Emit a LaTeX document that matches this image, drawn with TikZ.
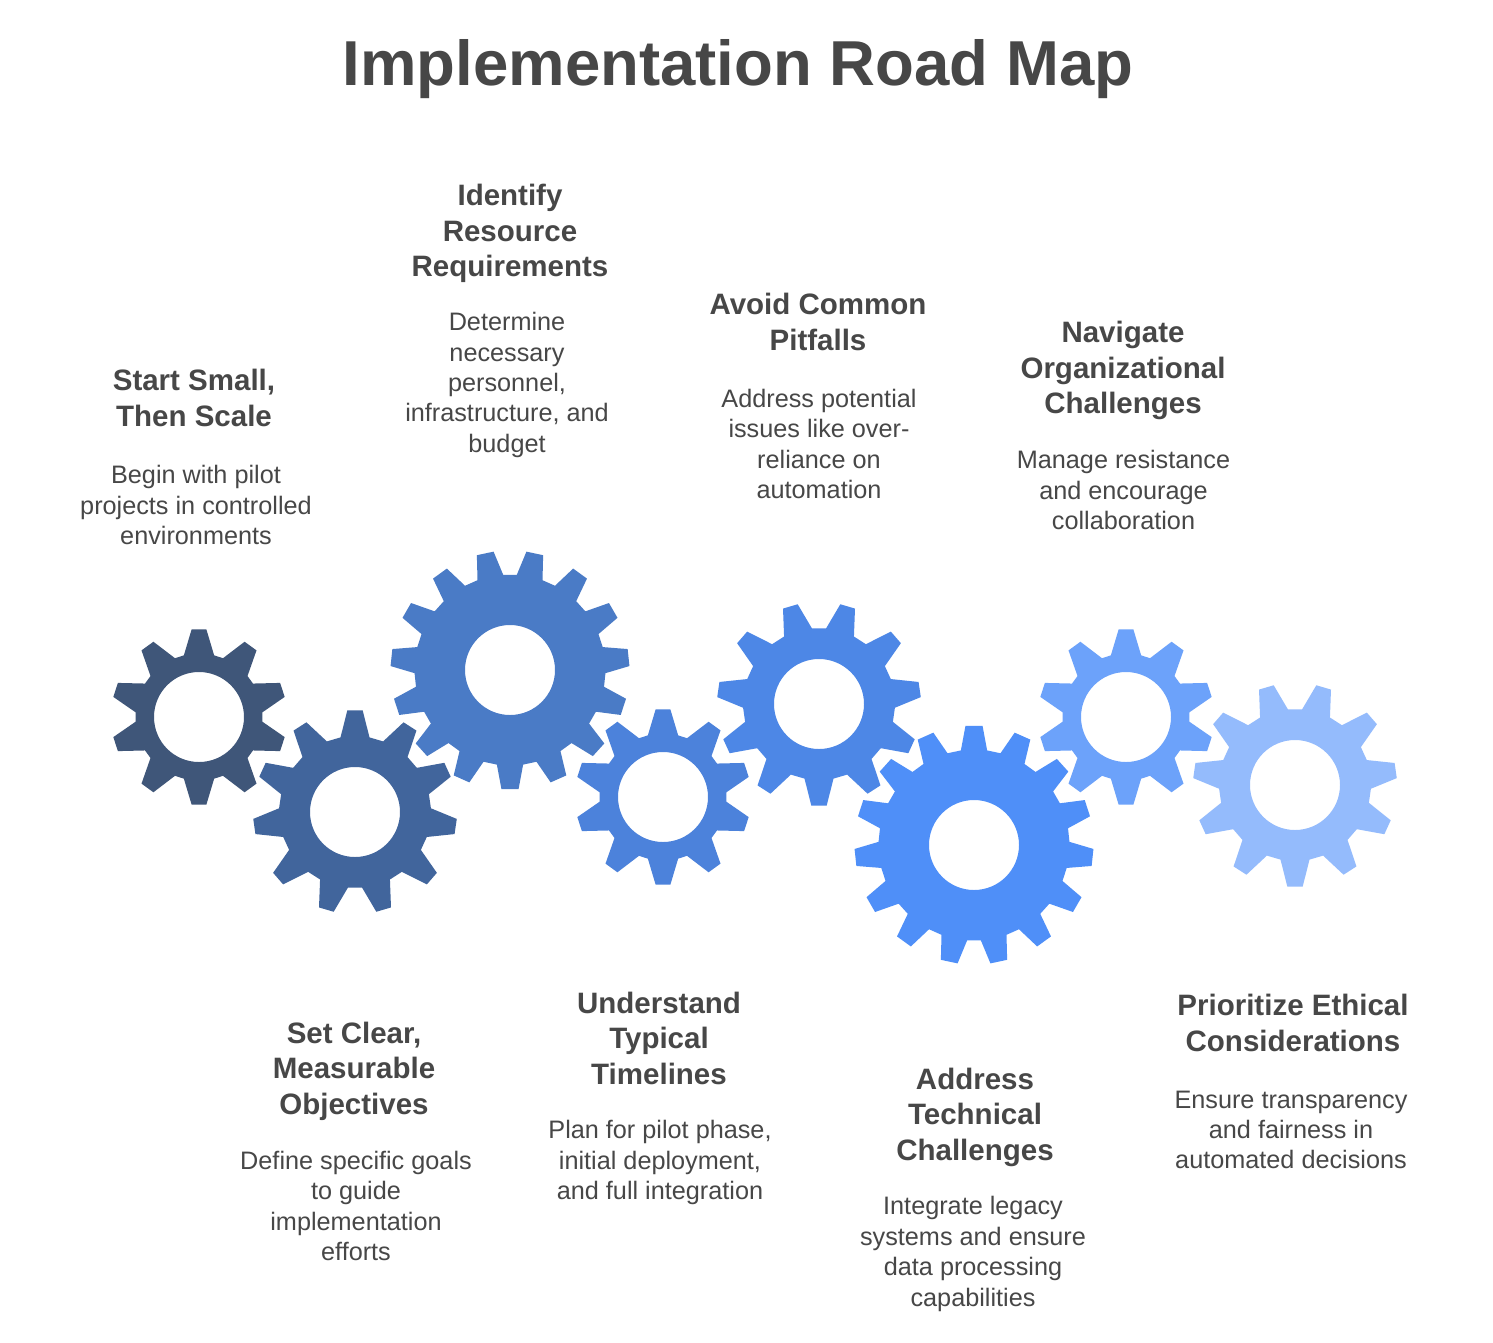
\documentclass[tikz,border=0pt]{standalone}
\usepackage{fontspec}
\setmainfont{Liberation Sans}
\definecolor{txt}{HTML}{474747}
\definecolor{gA}{HTML}{3F5679}
\definecolor{gB}{HTML}{41659C}
\definecolor{gC}{HTML}{4A7BC6}
\definecolor{gD}{HTML}{4C82DB}
\definecolor{gE}{HTML}{4D87E6}
\definecolor{gF}{HTML}{4F8FF8}
\definecolor{gG}{HTML}{6CA2FA}
\definecolor{gH}{HTML}{94BBFC}
\tikzset{
  titletext/.style={font=\fontsize{63.5}{70}\selectfont\bfseries,text=txt,inner sep=0pt},
  headtext/.style={font=\fontsize{29.5}{35.5}\selectfont\bfseries,text=txt,align=center,inner sep=0pt},
  bodytext/.style={font=\fontsize{25.25}{30.4}\selectfont,text=txt,align=center,inner sep=0pt}
}
% centre x, centre y, teeth, start angle, tip R, root R, tip half angle, base half angle, colour
\newcommand{\gearshape}[9]{%
  \pgfmathsetmacro{\gstep}{360/#3}%
  \pgfmathsetmacro{\gsecond}{#4+\gstep}%
  \pgfmathsetmacro{\gend}{#4+360-\gstep/2}%
  \fill[#9,even odd rule,shift={(#1,#2)}]
    (#4-#8:#6)
    \foreach \ga in {#4,\gsecond,...,\gend}{
      -- (\ga-#8:#6) -- (\ga-#7:#5) -- (\ga+#7:#5) -- (\ga+#8:#6)
    } -- cycle
    (0,0) circle[radius=45];
}
\begin{document}
\begin{tikzpicture}[x=1pt,y=-1pt]
\useasboundingbox (0,0) rectangle (1493,1342);
\fill[white] (0,0) rectangle (1493,1342);
\gearshape{199}{717}{10}{-90}{88}{63.5}{4.8}{13.8}{gA}
\gearshape{355}{812}{11}{-90}{102}{76}{4.3}{11}{gB}
\gearshape{510}{670}{15}{90}{119.5}{95.5}{4.1}{7.9}{gC}
\gearshape{663}{797}{10}{-90}{88}{63.5}{4.8}{13.8}{gD}
\gearshape{819}{704}{11}{90}{102}{76}{4.3}{11}{gE}
\gearshape{974}{845}{15}{-90}{119.5}{95.5}{4.1}{7.9}{gF}
\gearshape{1126}{717}{10}{-90}{88}{63.5}{4.8}{13.8}{gG}
\gearshape{1295}{785}{11}{90}{102}{76}{4.3}{11}{gH}

\node[titletext] (title) at (738,69) {Implementation Road Map};

\node[headtext] (h1) at (194,398) {Start Small,\\Then Scale};
\node[bodytext] (b1) at (196,505) {Begin with pilot\\projects in controlled\\environments};
\node[headtext] (h2) at (354,1071) {Set Clear,\\Measurable\\Objectives};
\node[bodytext] (b2) at (356,1206) {Define specific goals\\to guide\\implementation\\efforts};
\node[headtext] (h3) at (510,233.5) {Identify\\Resource\\Requirements};
\node[bodytext] (b3) at (507,385) {Determine\\necessary\\personnel,\\infrastructure, and\\budget};
\node[headtext] (h4) at (659,1038) {Understand\\Typical\\Timelines};
\node[bodytext] (b4) at (660,1162.5) {Plan for pilot phase,\\initial deployment,\\and full integration};
\node[headtext] (h5) at (818,322) {Avoid Common\\Pitfalls};
\node[bodytext] (b5) at (819,444) {Address potential\\issues like over-\\reliance on\\automation};
\node[headtext] (h6) at (975,1117) {Address\\Technical\\Challenges};
\node[bodytext] (b6) at (973,1254) {Integrate legacy\\systems and ensure\\data processing\\capabilities};
\node[headtext] (h7) at (1123,370.5) {Navigate\\Organizational\\Challenges};
\node[bodytext] (b7) at (1123.5,490) {Manage resistance\\and encourage\\collaboration};
\node[headtext] (h8) at (1293,1023) {Prioritize Ethical\\Considerations};
\node[bodytext] (b8) at (1291,1130) {Ensure transparency\\and fairness in\\automated decisions};
\end{tikzpicture}
\end{document}
